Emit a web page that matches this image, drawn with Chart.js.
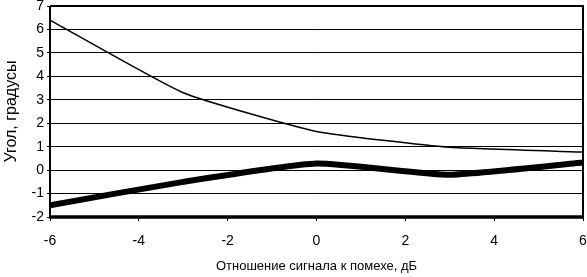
<!DOCTYPE html>
<html><head><meta charset="utf-8">
<script src="https://cdn.jsdelivr.net/npm/chart.js@4/dist/chart.umd.min.js"></script>
<style>html,body{margin:0;padding:0;background:#fff}#w{width:587px;height:277px}</style>
</head><body><div id="w"><canvas id="c" width="587" height="277"></canvas></div>
<script>
const xValues = [-6, -3, 0, 3, 6];
const thinSeries = [6.4, 3.3, 1.65, 0.97, 0.77];
const thickSeries = [-1.5, -0.5, 0.28, -0.2, 0.32];
const xTitle = 'Отношение сигнала к помехе, дБ';
const yTitle = 'Угол, градусы';

const framePlugin = {
  id: 'frame',
  afterDraw(chart) {
    const {ctx, chartArea: a} = chart;
    ctx.save();
    ctx.strokeStyle = '#000';
    ctx.lineWidth = 2;
    ctx.beginPath();
    ctx.moveTo(a.left, a.top); ctx.lineTo(a.right, a.top); ctx.lineTo(a.right, a.bottom);
    ctx.moveTo(a.left, a.top); ctx.lineTo(a.left, a.bottom);
    ctx.stroke();
    ctx.lineWidth = 3.5;
    ctx.beginPath();
    ctx.moveTo(a.left - 1, a.bottom); ctx.lineTo(a.right + 1, a.bottom);
    ctx.stroke();
    ctx.restore();
  }
};

new Chart(document.getElementById('c'), {
  type: 'line',
  data: {
    datasets: [
      {data: xValues.map((x, i) => ({x, y: thinSeries[i]})), borderColor: '#000', borderWidth: 1.5, pointRadius: 0, tension: 0.15},
      {data: xValues.map((x, i) => ({x, y: thickSeries[i]})), borderColor: '#000', borderWidth: 6, pointRadius: 0, tension: 0.15}
    ]
  },
  options: {
    responsive: false, animation: false,
    layout: {padding: {left: 0, right: 4, top: 6, bottom: 0}},
    plugins: {legend: {display: false}, tooltip: {enabled: false}},
    scales: {
      x: {
        type: 'linear', min: -6, max: 6,
        ticks: {stepSize: 2, color: '#000', font: {family: 'Liberation Sans', size: 14}, padding: 12, maxRotation: 0},
        grid: {drawOnChartArea: false, drawTicks: true, tickLength: 4, color: '#000'},
        border: {display: false},
        title: {display: true, text: xTitle, color: '#000', font: {family: 'Liberation Sans', size: 13}, padding: {top: 6, bottom: 3}},
        afterFit(s) { s.height = 60; s.paddingLeft = 0; s.paddingRight = 0; }
      },
      y: {
        min: -2, max: 7,
        ticks: {stepSize: 1, color: '#000', font: {family: 'Liberation Sans', size: 14}, padding: 3},
        grid: {color: '#000', lineWidth: 1, tickLength: 3},
        border: {display: false},
        title: {display: true, text: yTitle, color: '#000', font: {family: 'Liberation Sans', size: 16}, padding: {top: 2, bottom: 4}},
        afterFit(s) { s.width = 50; s.paddingTop = 0; s.paddingBottom = 0; }
      }
    }
  },
  plugins: [framePlugin]
});
</script></body></html>
